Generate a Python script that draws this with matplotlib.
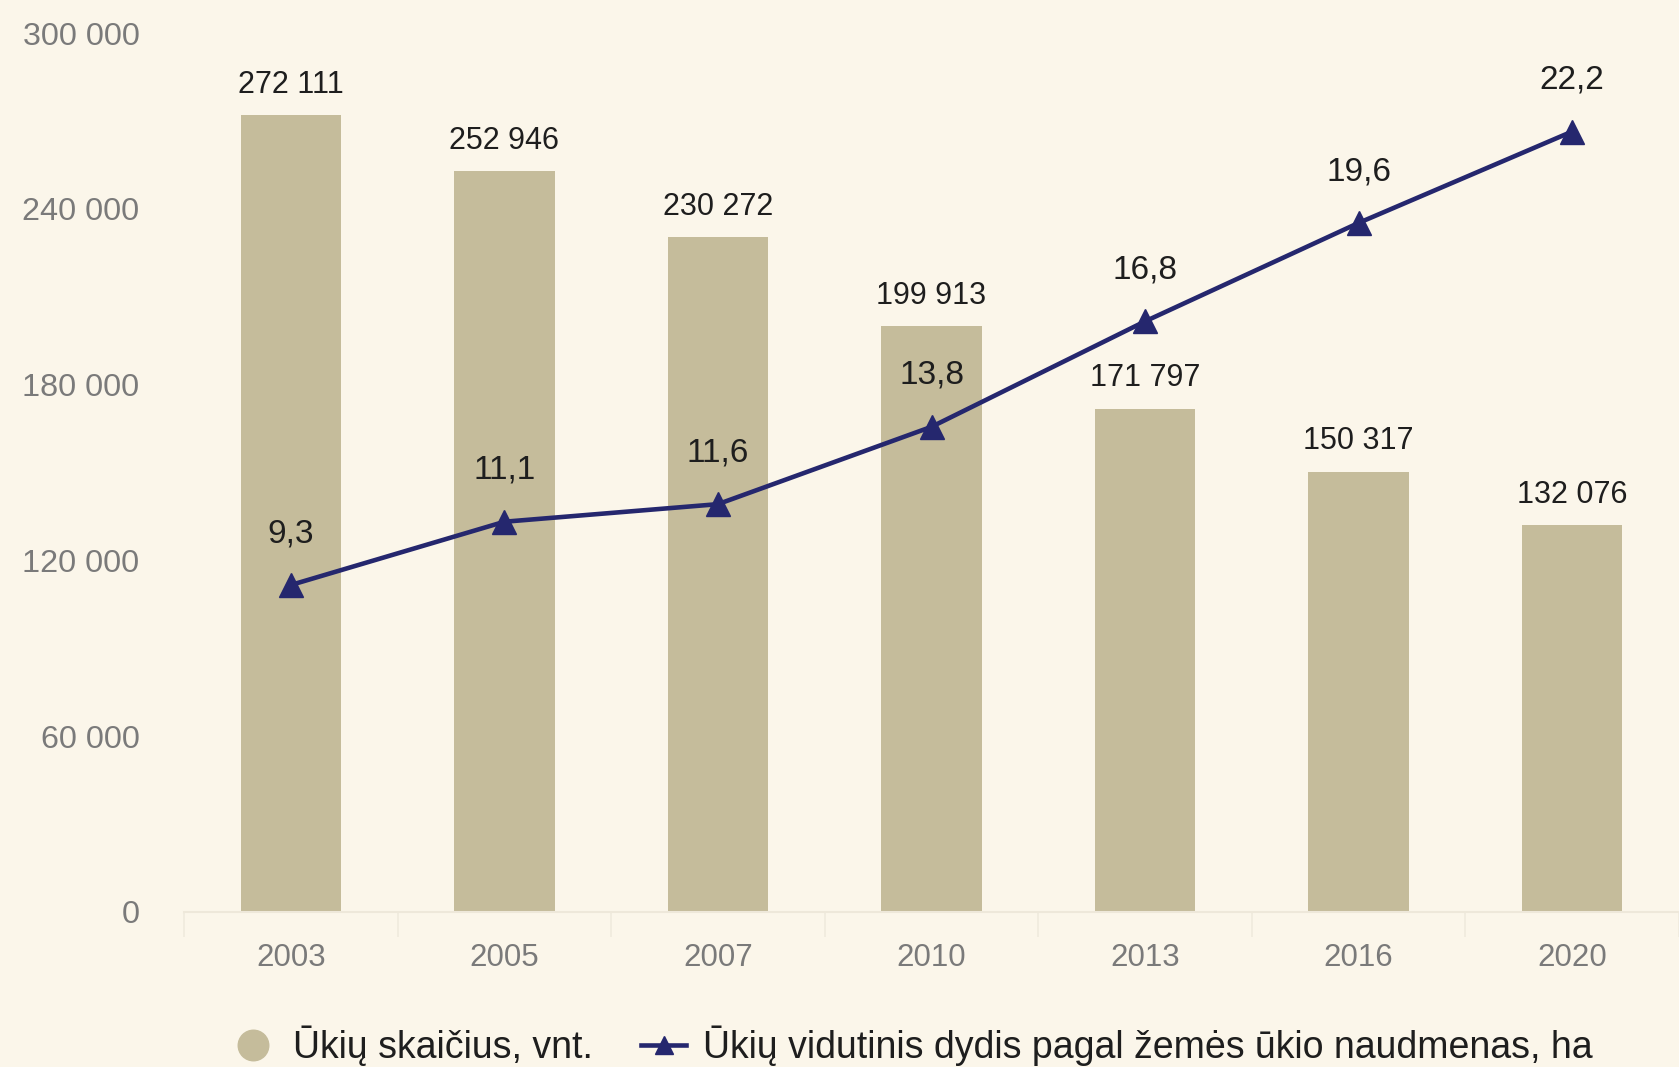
import numpy as np
import matplotlib
matplotlib.use("Agg")
import matplotlib.pyplot as plt
from matplotlib.lines import Line2D

plt.rcParams['font.family'] = ['Liberation Sans', 'DejaVu Sans']

years = ['2003', '2005', '2007', '2010', '2013', '2016', '2020']
farms = [272111, 252946, 230272, 199913, 171797, 150317, 132076]
avg_size = [9.3, 11.1, 11.6, 13.8, 16.8, 19.6, 22.2]
yticks = [0, 60000, 120000, 180000, 240000, 300000]

bg = '#FBF6EA'
bar_col = '#C5BC9B'
line_col = '#25276E'


def fmt_thousands(v):
    return '{:,}'.format(int(v)).replace(',', ' ')


fig = plt.figure(figsize=(16.79, 10.67), dpi=100, facecolor=bg)
ax = fig.add_axes([0.1096, 0.1453, 0.8904, 0.8237])
ax.set_facecolor(bg)

x = np.arange(len(years))
ax.bar(x, farms, width=0.47, color=bar_col, zorder=2)
for xi, v in zip(x, farms):
    ax.annotate(fmt_thousands(v), (xi, v), xytext=(0, 11), textcoords='offset points',
                ha='center', va='bottom', fontsize=22, color='#1e1e1e')

ax.set_xlim(-0.5, len(years) - 0.5)
ax.set_ylim(0, 300000)
ax.set_yticks(yticks)
ax.set_yticklabels([fmt_thousands(t) for t in yticks])
ax.set_xticks(x)
ax.set_xticklabels(years)
ax.set_xticks(np.arange(-0.5, len(years)), minor=True)
ax.tick_params(axis='y', length=0, pad=32, labelsize=23.3, labelcolor='#7a7a7a')
ax.tick_params(axis='x', which='major', length=0, pad=22, labelsize=22.5, labelcolor='#7a7a7a')
ax.tick_params(axis='x', which='minor', length=18, width=1.2, color='#F0EBDD')
for s in ['top', 'right', 'left']:
    ax.spines[s].set_visible(False)
ax.spines['bottom'].set_color('#EEE8DA')
ax.spines['bottom'].set_linewidth(1.5)

ax2 = ax.twinx()
ax2.set_ylim(0, 25)
ax2.plot(x, avg_size, color=line_col, lw=3.3, marker='^', markersize=17, zorder=3)
for xi, v in zip(x, avg_size):
    ax2.annotate(('%.1f' % v).replace('.', ','), (xi, v), xytext=(0, 37),
                 textcoords='offset points', ha='center', va='center',
                 fontsize=24, color='#1e1e1e')
ax2.axis('off')

handles = [
    Line2D([], [], linestyle='none', marker='o', markersize=22, color=bar_col),
    Line2D([], [], color=line_col, lw=3.3, marker='^', markersize=13),
]
labels = ['Ūkių skaičius, vnt.', 'Ūkių vidutinis dydis pagal žemės ūkio naudmenas, ha']
fig.legend(handles, labels, loc='center', bbox_to_anchor=(0.543, 1 - 1046 / 1067),
           ncol=2, frameon=False, fontsize=27, handlelength=1.2,
           handletextpad=0.45, columnspacing=1.3, labelcolor='#1e1e1e')

fig.savefig('out.png', dpi=100, facecolor=bg)
